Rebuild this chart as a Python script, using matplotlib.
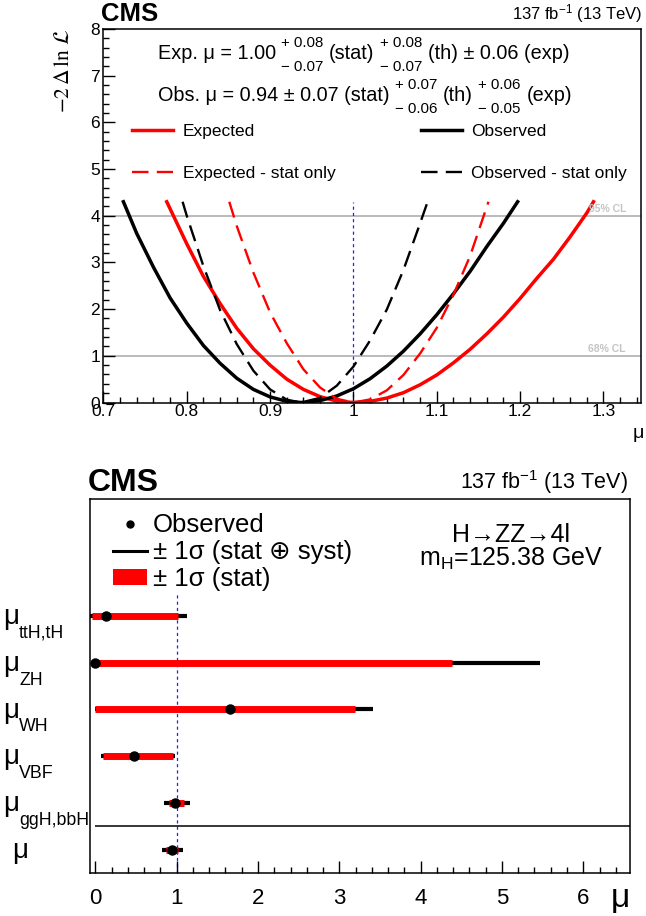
import matplotlib
matplotlib.use('Agg')
import matplotlib.pyplot as plt
import matplotlib.transforms as mtransforms
from matplotlib.lines import Line2D
from matplotlib.patches import Patch
from matplotlib.ticker import MultipleLocator

plt.rcParams['font.family'] = ['Liberation Sans', 'DejaVu Sans']
plt.rcParams['mathtext.fontset'] = 'custom'
plt.rcParams['mathtext.rm'] = 'Liberation Sans'
plt.rcParams['mathtext.it'] = 'Liberation Sans:italic'
plt.rcParams['mathtext.bf'] = 'Liberation Sans:bold'

# ---- likelihood scans ----
exp_mu = [0.776, 0.784, 0.80, 0.82, 0.84, 0.86, 0.88, 0.90, 0.92, 0.94, 0.96, 0.98, 1.00,
          1.02, 1.04, 1.06, 1.08, 1.10, 1.12, 1.14, 1.16, 1.18, 1.20, 1.22, 1.24, 1.26, 1.28, 1.288]
exp_nll = [4.3, 4.0, 3.4, 2.7, 2.12, 1.59, 1.15, 0.80, 0.50, 0.28, 0.125, 0.03, 0.0,
           0.024, 0.095, 0.21, 0.38, 0.59, 0.85, 1.14, 1.47, 1.83, 2.23, 2.66, 3.07, 3.55, 4.06, 4.3]

obs_mu = [0.724, 0.74, 0.76, 0.78, 0.80, 0.82, 0.84, 0.86, 0.88, 0.90, 0.92, 0.937,
          0.96, 0.98, 1.00, 1.02, 1.04, 1.06, 1.08, 1.10, 1.12, 1.14, 1.16, 1.18, 1.197]
obs_nll = [4.3, 3.62, 2.90, 2.24, 1.70, 1.22, 0.84, 0.52, 0.28, 0.12, 0.025, 0.0,
           0.04, 0.14, 0.295, 0.51, 0.78, 1.10, 1.47, 1.88, 2.33, 2.81, 3.34, 3.84, 4.3]

exp_stat_mu = [0.851, 0.86, 0.88, 0.90, 0.92, 0.94, 0.96, 0.98, 1.00,
               1.02, 1.04, 1.06, 1.08, 1.10, 1.12, 1.14, 1.162]
exp_stat_nll = [4.3, 3.78, 2.78, 1.93, 1.27, 0.71, 0.32, 0.08, 0.0,
                0.066, 0.26, 0.59, 1.05, 1.60, 2.31, 3.14, 4.3]

obs_stat_mu = [0.795, 0.80, 0.82, 0.84, 0.86, 0.88, 0.90, 0.92, 0.937,
               0.96, 0.98, 1.00, 1.02, 1.04, 1.06, 1.08, 1.089]
obs_stat_nll = [4.3, 4.0, 2.92, 1.98, 1.25, 0.68, 0.28, 0.06, 0.0,
                0.10, 0.36, 0.77, 1.33, 1.99, 2.84, 3.84, 4.3]

# ---- signal strength summary (bottom to top) ----
poi_subs = ['', 'ggH,bbH', 'VBF', 'WH', 'ZH', 'ttH,tH']
best = [0.94, 0.98, 0.48, 1.66, 0.00, 0.13]
stat_lo = [0.865, 0.90, 0.10, 0.00, 0.01, -0.04]
stat_hi = [1.02, 1.09, 0.95, 3.19, 4.39, 1.02]
tot_lo = [0.815, 0.85, 0.07, -0.01, 0.00, -0.06]
tot_hi = [1.078, 1.16, 0.98, 3.42, 5.47, 1.13]

W, H = 646, 916
fig = plt.figure(figsize=(W / 100, H / 100), dpi=100)

def fx(px):
    return px / W

def fy(py):
    return 1 - py / H

# ================= top panel =================
ax1 = fig.add_axes([fx(103.4), fy(402.5), fx(641) - fx(103.4), fy(29) - fy(402.5)])
ax1.set_xlim(0.7, 1.345)
ax1.set_ylim(0, 8)

ax1.axhline(1, color='#a8a8a8', lw=1.1, zorder=1)
ax1.axhline(4, color='#a8a8a8', lw=1.1, zorder=1)
ax1.vlines(1, 0, 4.3, colors='#2020ff', linestyles=(0, (2.5, 2.5)), lw=0.9, zorder=1)

l_exp, = ax1.plot(exp_mu, exp_nll, color='#ff0000', lw=2.5, label='Expected')
l_obs, = ax1.plot(obs_mu, obs_nll, color='black', lw=2.5, label='Observed')
l_exps, = ax1.plot(exp_stat_mu, exp_stat_nll, color='#ff0000', lw=1.7,
                   dashes=(7, 3.5), label='Expected - stat only')
l_obss, = ax1.plot(obs_stat_mu, obs_stat_nll, color='black', lw=1.7,
                   dashes=(7, 3.5), label='Observed - stat only')

cl_tr = mtransforms.blended_transform_factory(ax1.transAxes, ax1.transData)
ax1.text(0.972, 4.04, '95% CL', transform=cl_tr, ha='right', va='bottom',
         fontsize=7.5, color='#c4c4c4', fontweight='bold')
ax1.text(0.972, 1.04, '68% CL', transform=cl_tr, ha='right', va='bottom',
         fontsize=7.5, color='#c4c4c4', fontweight='bold')

ax1.xaxis.set_major_locator(MultipleLocator(0.1))
ax1.xaxis.set_minor_locator(MultipleLocator(0.02))
ax1.yaxis.set_major_locator(MultipleLocator(1))
ax1.yaxis.set_minor_locator(MultipleLocator(0.2))
ax1.tick_params(which='both', direction='in', top=False, right=False, labelsize=12.5, width=1)
ax1.tick_params(which='major', length=8.5)
ax1.tick_params(which='minor', length=4.5)
ax1.tick_params(axis='x', pad=1)
ax1.tick_params(axis='y', pad=2.5)
ax1.set_xticks([0.7, 0.8, 0.9, 1.0, 1.1, 1.2, 1.3])
ax1.set_xticklabels(['0.7', '0.8', '0.9', '1', '1.1', '1.2', '1.3'])
for s in ax1.spines.values():
    s.set_linewidth(1.1)

ax1.text(-0.075, 1.0, r'$-2\,\Delta\,\ln\,\mathcal{L}$', transform=ax1.transAxes, rotation=90,
         ha='center', va='top', fontsize=15.5, math_fontfamily='stix')
fig.text(fx(644), fy(438), 'μ', ha='right', va='baseline', fontsize=14)

leg1 = ax1.legend(handles=[l_exp, l_exps], loc='upper left', bbox_to_anchor=(0.053, 0.746),
                  frameon=False, fontsize=12.5, borderpad=0, borderaxespad=0,
                  handlelength=2.36, handletextpad=0.57, labelspacing=1.55)
ax1.add_artist(leg1)
ax1.legend(handles=[l_obs, l_obss], loc='upper left', bbox_to_anchor=(0.59, 0.746),
           frameon=False, fontsize=12.5, borderpad=0, borderaxespad=0,
           handlelength=2.36, handletextpad=0.57, labelspacing=1.55)

MAIN_FS = 14.3
SCRIPT_FS = 10.8

def stacked(prev, up, dn):
    a = ax1.annotate(up, xy=(1, 0.5), xycoords=prev, xytext=(4, 8), textcoords='offset points',
                     ha='left', va='center', fontsize=SCRIPT_FS)
    ax1.annotate(dn, xy=(1, 0.5), xycoords=prev, xytext=(4, -9.5), textcoords='offset points',
                 ha='left', va='center', fontsize=SCRIPT_FS)
    return a

def follow(sup, prev, s):
    return ax1.annotate(s, xy=(1, 0.5), xycoords=(sup, prev), xytext=(4, 0),
                        textcoords='offset points', ha='left', va='center', fontsize=MAIN_FS)

t = ax1.text(0.101, 0.934, 'Exp. μ = 1.00', transform=ax1.transAxes, ha='left', va='center', fontsize=MAIN_FS)
a = stacked(t, '+ 0.08', '− 0.07')
t2 = follow(a, t, '(stat)')
a = stacked(t2, '+ 0.08', '− 0.07')
follow(a, t, '(th) ± 0.06 (exp)')

t = ax1.text(0.101, 0.821, 'Obs. μ = 0.94 ± 0.07 (stat)', transform=ax1.transAxes, ha='left', va='center', fontsize=MAIN_FS)
a = stacked(t, '+ 0.07', '− 0.06')
t2 = follow(a, t, '(th)')
a = stacked(t2, '+ 0.06', '− 0.05')
follow(a, t, '(exp)')

fig.text(fx(101), fy(14), 'CMS', ha='left', va='center', fontsize=18.5, fontweight='bold')
fig.text(fx(642), fy(14), r'137 fb$^{-1}$ (13 TeV)', ha='right', va='center', fontsize=12)

# ================= bottom panel =================
ax2 = fig.add_axes([fx(90), fy(873), fx(629.6) - fx(90), fy(499) - fy(873)])
ax2.set_xlim(-0.066, 6.57)
ax2.set_ylim(-0.5, 7.5)
rows = list(range(len(best)))

ax2.vlines(1, -0.5, 5.5, colors='#2020ff', linestyles=(0, (2.5, 2.5)), lw=0.9, zorder=1)
ax2.hlines(0.5, 0, 6.57, colors='black', lw=1.1)

ax2.hlines(rows, tot_lo, tot_hi, colors='black', lw=3, zorder=2)
ax2.hlines(rows, stat_lo, stat_hi, colors='#ff0000', lw=5, zorder=3)
ax2.plot(best, rows, 'o', color='black', ms=6.5, zorder=4)

ax2.set_yticks([])
ax2.xaxis.set_major_locator(MultipleLocator(1))
ax2.xaxis.set_minor_locator(MultipleLocator(0.2))
ax2.tick_params(which='both', direction='in', top=False, right=False, labelsize=16, width=1)
ax2.tick_params(which='major', length=8.5, pad=11)
ax2.tick_params(which='minor', length=4.5)
for s in ax2.spines.values():
    s.set_linewidth(1.1)

ylab_tr = mtransforms.blended_transform_factory(ax2.transAxes, ax2.transData)
for r, sub in zip(rows, poi_subs):
    x0 = -0.161 if sub else -0.145
    mu_txt = ax2.annotate('μ', xy=(x0, r), xycoords=ylab_tr, xytext=(0, -6),
                          textcoords='offset points', ha='left', va='baseline', fontsize=20)
    if sub:
        ax2.annotate(sub, xy=(1, 0), xycoords=mu_txt, xytext=(0, -5.5),
                     textcoords='offset points', ha='left', va='baseline', fontsize=12.8)

fig.text(fx(630), fy(907), 'μ', ha='right', va='baseline', fontsize=24)

h_obs = Line2D([], [], ls='none', marker='o', color='black', ms=5)
h_tot = Line2D([], [], color='black', lw=2.2)
h_stat = Patch(facecolor='#ff0000', edgecolor='none')
ax2.legend([h_obs, h_tot, h_stat], ['Observed', '± 1σ (stat ⊕ syst)', '± 1σ (stat)'],
           loc='upper left', bbox_to_anchor=(0.043, 0.962), frameon=False, fontsize=18.5,
           borderpad=0, borderaxespad=0, handlelength=1.3, handleheight=0.6,
           handletextpad=0.25, labelspacing=0.12)

ax2.text(0.78, 0.903, 'H→ZZ→4l', transform=ax2.transAxes, ha='center', va='center', fontsize=18)
ax2.text(0.78, 0.839, r'm$_{\mathrm{H}}$=125.38 GeV', transform=ax2.transAxes, ha='center', va='center', fontsize=18)

fig.text(fx(88), fy(483), 'CMS', ha='left', va='center', fontsize=23, fontweight='bold')
fig.text(fx(627.6), fy(482), r'137 fb$^{-1}$ (13 TeV)', ha='right', va='center', fontsize=15.5)

fig.savefig('out.png', dpi=100)
